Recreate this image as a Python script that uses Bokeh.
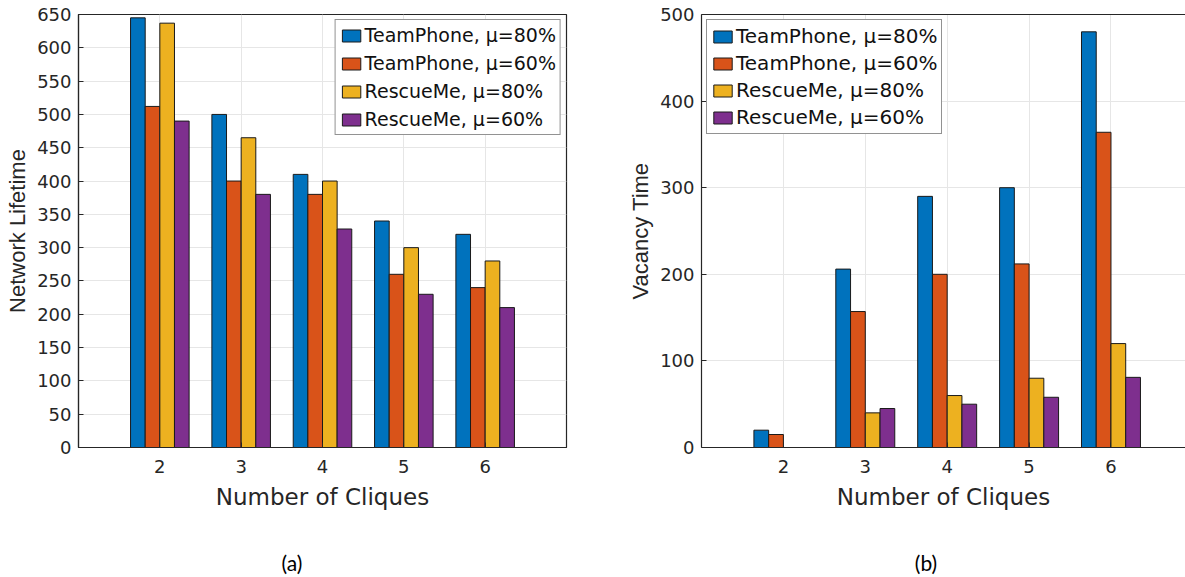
from bokeh.plotting import figure
from bokeh.layouts import row, column
from bokeh.models import (ColumnDataSource, Legend, LegendItem, LinearAxis, Div,
                          FixedTicker, Range1d)
from bokeh.transform import dodge
from bokeh.embed import file_html
from bokeh.resources import INLINE

# ---------------- data ----------------
cliques = [2, 3, 4, 5, 6]
series_names = ["TeamPhone, μ=80%", "TeamPhone, μ=60%", "RescueMe, μ=80%", "RescueMe, μ=60%"]
colors = ["#0072BD", "#D95319", "#EDB120", "#7E2F8E"]

lifetime_tp80 = [645, 500, 410, 340, 320]
lifetime_tp60 = [512, 400, 380, 260, 240]
lifetime_rm80 = [637, 465, 400, 300, 280]
lifetime_rm60 = [490, 380, 328, 230, 210]

vacancy_tp80 = [20, 206, 290, 300, 480]
vacancy_tp60 = [15, 157, 200, 212, 364]
vacancy_rm80 = [0, 40, 60, 80, 120]
vacancy_rm60 = [0, 45, 50, 58, 81]

lifetime_ticks = list(range(0, 651, 50))
vacancy_ticks = [0, 100, 200, 300, 400, 500]
x_ticks = cliques

# ---------------- style ----------------
AX = "#262626"
GRID = "#e6e6e6"
TICK_FONT = "DejaVu Sans"
H = 519
CAP_H = 58
BAR_W = 0.18
OFFSETS = [-0.27, -0.09, 0.09, 0.27]


def style_axis(ax, ticks):
    ax.ticker = FixedTicker(ticks=ticks)
    ax.axis_line_color = AX
    ax.axis_line_width = 1.2
    ax.major_tick_line_color = AX
    ax.major_tick_in = 5
    ax.major_tick_out = 0
    ax.minor_tick_line_color = None
    ax.major_label_text_color = AX
    ax.major_label_text_font = TICK_FONT
    ax.major_label_text_font_size = "18px"


def make_panel(vals, y_end, yticks, ylabel, legend_loc, legend_font, legend_spacing,
               width, b_left, b_right, x_end, full_box):
    p = figure(width=width, height=H, x_range=Range1d(1, x_end), y_range=Range1d(0, y_end),
               output_backend="svg", toolbar_location=None,
               min_border_left=b_left, min_border_right=b_right,
               min_border_top=14, min_border_bottom=72)
    p.background_fill_color = "white"
    p.border_fill_color = "white"
    p.outline_line_color = AX if full_box else None
    p.outline_line_width = 1.2

    src = ColumnDataSource(dict(x=cliques, s0=vals[0], s1=vals[1], s2=vals[2], s3=vals[3]))
    items = []
    for i in range(4):
        r = p.vbar(x=dodge("x", OFFSETS[i], range=p.x_range), top="s%d" % i, width=BAR_W,
                   source=src, fill_color=colors[i], line_color="#1a1a1a", line_width=1)
        items.append(LegendItem(label=series_names[i], renderers=[r]))

    # axes
    xa = p.xaxis[0]
    ya = p.yaxis[0]
    style_axis(xa, x_ticks)
    style_axis(ya, yticks)
    xa.major_label_standoff = 12
    ya.major_label_standoff = 7
    xa.axis_label = "Number of Cliques"
    xa.axis_label_text_font = TICK_FONT
    xa.axis_label_text_font_size = "23px"
    xa.axis_label_text_font_style = "normal"
    xa.axis_label_text_color = AX
    xa.axis_label_standoff = 8
    ya.axis_label = ylabel
    ya.axis_label_text_font = "Liberation Sans"
    ya.axis_label_text_font_size = "22px"
    ya.axis_label_text_font_style = "normal"
    ya.axis_label_text_color = AX
    ya.axis_label_standoff = 4

    if not full_box:
        top_ax = LinearAxis(ticker=FixedTicker(ticks=[]))
        top_ax.axis_line_color = AX
        top_ax.axis_line_width = 1.2
        top_ax.major_tick_line_color = None
        top_ax.minor_tick_line_color = None
        p.add_layout(top_ax, "above")

    # grid
    p.xgrid.ticker = FixedTicker(ticks=x_ticks)
    p.ygrid.ticker = FixedTicker(ticks=yticks)
    for g in (p.xgrid[0], p.ygrid[0]):
        g.grid_line_color = GRID
        g.grid_line_width = 1

    # legend
    leg = Legend(items=items, location=legend_loc)
    leg.margin = 5
    leg.padding = 4
    leg.spacing = legend_spacing
    leg.glyph_width = 23
    leg.glyph_height = 15
    leg.label_height = 22
    leg.label_standoff = 2
    leg.label_text_font = TICK_FONT
    leg.label_text_font_size = legend_font
    leg.label_text_color = "#111111"
    leg.border_line_color = AX
    leg.border_line_width = 1
    leg.background_fill_color = "white"
    leg.background_fill_alpha = 1
    p.add_layout(leg)
    return p


def caption_div(text, width, pad_left, pad_right):
    html = ('<div style="width:%dpx;box-sizing:border-box;padding-top:32px;'
            'padding-left:%dpx;padding-right:%dpx;text-align:center;'
            'font-family:Lato;font-size:21px;line-height:24px;color:#000;">%s</div>'
            % (width, pad_left, pad_right, text))
    return Div(text=html, width=width, height=CAP_H, margin=0)


p1 = make_panel([lifetime_tp80, lifetime_tp60, lifetime_rm80, lifetime_rm60],
                650, lifetime_ticks, "Network Lifetime", "top_right", "19px", 6,
                width=593, b_left=78, b_right=27, x_end=7, full_box=True)
p2 = make_panel([vacancy_tp80, vacancy_tp60, vacancy_rm80, vacancy_rm60],
                500, vacancy_ticks, "Vacancy Time", "top_left", "20px", 3,
                width=592, b_left=108, b_right=0, x_end=6.91, full_box=False)

d1 = caption_div("(a)", 593, 0, 9)
d2 = caption_div("(b)", 592, 74, 0)

layout = column(row(p1, p2), row(d1, d2))
open("out.html", "w").write(file_html(layout, INLINE))
